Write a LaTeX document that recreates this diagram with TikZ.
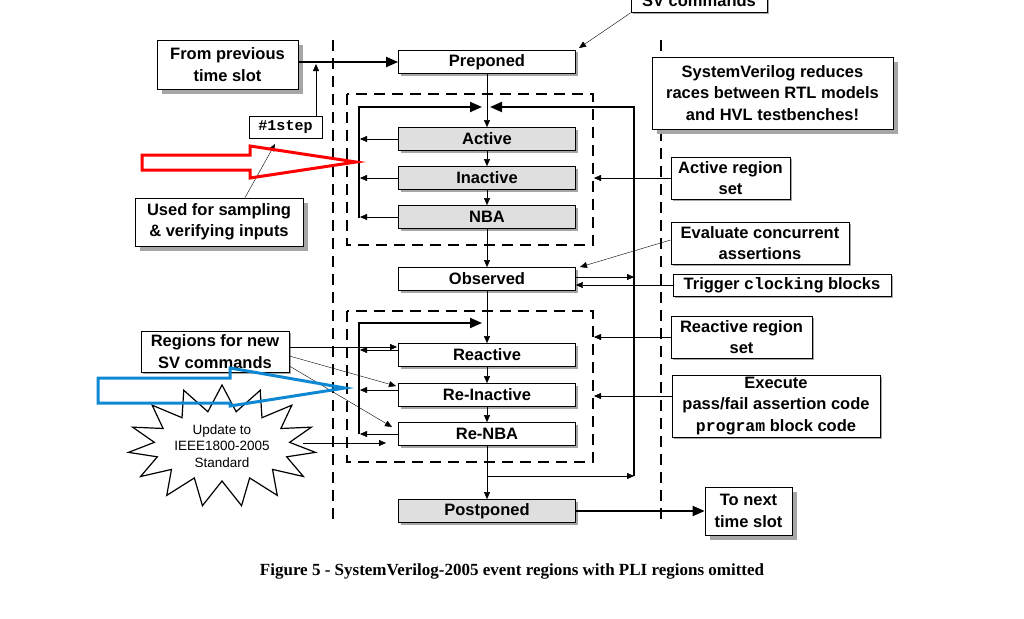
\documentclass[tikz,border=0pt]{standalone}
\usepackage{fontspec}
\setmainfont{Liberation Sans}
\newfontfamily\capfont{Liberation Serif}
\newfontfamily\monofont{Liberation Mono}
\usetikzlibrary{arrows.meta,shapes.symbols,shadows}
\begin{document}
\begin{tikzpicture}[x=1pt,y=-1pt,
  txt/.style={font=\fontsize{16.5}{21.5}\selectfont\bfseries,align=center,inner sep=0pt},
  reg/.style={draw,thick,txt,minimum width=177pt,minimum height=23pt,fill=white,drop shadow={shadow xshift=2pt,shadow yshift=-2pt,fill=gray!70,opacity=1}},
  greg/.style={reg,fill=gray!25},
  note/.style={draw,thick,txt,fill=white,drop shadow={shadow xshift=5pt,shadow yshift=-5pt,fill=gray!70,opacity=1}},
  lnote/.style={draw,thick,txt,fill=white,drop shadow={shadow xshift=2pt,shadow yshift=-2pt,fill=gray!70,opacity=1}},
  ar/.style={-{Triangle[length=7pt,width=6pt]}},
  tar/.style={line width=2pt,-{Triangle[length=12pt,width=10pt]}},
  dsh/.style={line width=2.5pt,dash pattern=on 11pt off 7pt},
]
\useasboundingbox (0,0) rectangle (1024,618);
% dashed verticals
\draw[dsh] (333,40) -- (333,525);
\draw[dsh] (661,40) -- (661,525);
\draw[dsh] (347,94) rectangle (593,245);
\draw[dsh] (347,311) rectangle (593,462);
% regions
\node[reg] (pre) at (487,62) {Preponed};
\node[greg] (act) at (487,139) {Active};
\node[greg] (inact) at (487,178) {Inactive};
\node[greg] (nba) at (487,217) {NBA};
\node[reg] (obs) at (487,279) {Observed};
\node[reg] (react) at (487,355) {Reactive};
\node[reg] (reinact) at (487,395) {Re-Inactive};
\node[reg] (renba) at (487,434) {Re-NBA};
\node[greg] (post) at (487,511) {Postponed};
% flow
\coordinate (br) at (487,476);
\draw[ar] (pre) -- (act);
\draw[ar] (act) -- (inact);
\draw[ar] (inact) -- (nba);
\draw[ar] (nba) -- (obs);
\draw[ar] (obs) -- (react);
\draw[ar] (react) -- (reinact);
\draw[ar] (reinact) -- (renba);
\draw[ar] (renba) -- (post);
% left loops
\draw[line width=2pt] (359,218) -- (359,107) -- (470,107);
\draw[tar] (440,107) -- (482,107);
\foreach \n/\y in {act/139,inact/178,nba/217}{\draw[ar] (\n.west|-0,\y) -- (360,\y);}
\draw[line width=2pt] (359,434) -- (359,323) -- (470,323);
\draw[tar] (440,323) -- (482,323);
\foreach \n/\y in {react/350,reinact/390,renba/434}{\draw[ar] (\n.west|-0,\y) -- (360,\y);}
% right loop
\draw[line width=2pt] (634,476) -- (634,107) -- (500,107);
\draw[tar] (530,107) -- (490,107);
\draw[ar] (br) -- (634,476);
\draw[ar] (obs.east|-0,277) -- (634,277);
% left notes
\node[note,minimum width=141pt,minimum height=49pt] (prev) at (227.5,64.5) {From previous\\time slot};
\draw[tar] (prev.east|-0,62) -- (pre.west|-0,62);
\node[draw,thick,fill=white,inner sep=2pt,font=\fontsize{15}{17}\selectfont\monofont\bfseries,minimum height=22pt,minimum width=73pt] (step) at (285.5,127) {\#1step};
\draw[ar] (step.north-|316,0) -- (316,64);
\node[note,minimum width=168pt,minimum height=48pt] (samp) at (219,222) {Used for sampling\\\& verifying inputs};
\draw[ar] (samp.north-|245,0) -- (275,144);
\node[lnote,minimum width=148pt,minimum height=41pt] (sv) at (215,351.5) {Regions for new\\SV commands};
\draw[ar] (sv.east|-0,347) -- (397,347);
\draw[ar] (sv.east|-0,356) -- (396,386);
\draw[ar] (sv.east|-0,366) -- (392,427);
\node[starburst,draw,very thick,fill=white,starburst points=15,starburst point height=26pt,random starburst=0,minimum width=188pt,minimum height=122pt,align=center,inner sep=0pt,font=\fontsize{13.5}{16.5}\selectfont] (upd) at (222,446) {Update to\\IEEE1800-2005\\Standard};
\draw[ar] (303,443) -- (386,443);
% big arrows
\draw[red,line width=3pt,line join=miter] (142,155) -- (250,155) -- (250,146) -- (356,162) -- (250,178) -- (250,170) -- (142,170) -- cycle;
\draw[cyan!70!blue,line width=3pt,line join=miter] (98,378) -- (230,378) -- (230,368) -- (345,388) -- (230,406) -- (230,403) -- (98,403) -- cycle;
% right notes
\node[lnote,minimum width=136pt,minimum height=23pt] (svc) at (699,1) {SV commands};
\draw[ar] (svc.south west) -- (579,48);
\node[note,minimum width=241pt,minimum height=72pt] (sysv) at (772.5,93) {SystemVerilog reduces\\races between RTL models\\and HVL testbenches!};
\node[lnote,minimum width=119pt,minimum height=42pt] (ars) at (730.5,178) {Active region\\set};
\draw[ar] (ars.west) -- (594,178);
\node[lnote,minimum width=178pt,minimum height=42pt] (eva) at (760,243) {Evaluate concurrent\\assertions};
\draw[ar] (eva.west|-0,240) -- (580,267);
\node[lnote,minimum width=218pt,minimum height=22pt] (trig) at (782,285) {Trigger {\monofont clocking} blocks};
\draw[ar] (trig.west) -- (obs.east|-0,285);
\node[lnote,minimum width=141pt,minimum height=42pt] (rrs) at (741.5,337) {Reactive region\\set};
\draw[ar] (rrs.west) -- (594,337);
\node[lnote,minimum width=208pt,minimum height=62pt] (exe) at (776,406) {Execute\\pass/fail assertion code\\{\monofont program} block code};
\draw[ar] (exe.west|-0,396) -- (594,396);
\node[note,minimum width=87pt,minimum height=48pt] (next) at (748.5,511) {To next\\time slot};
\draw[tar] (post.east) -- (next.west);
% caption
\node[font=\fontsize{17}{19}\selectfont\capfont\bfseries] (cap) at (512,571) {Figure 5 - SystemVerilog-2005 event regions with PLI regions omitted};
\end{tikzpicture}
\end{document}
